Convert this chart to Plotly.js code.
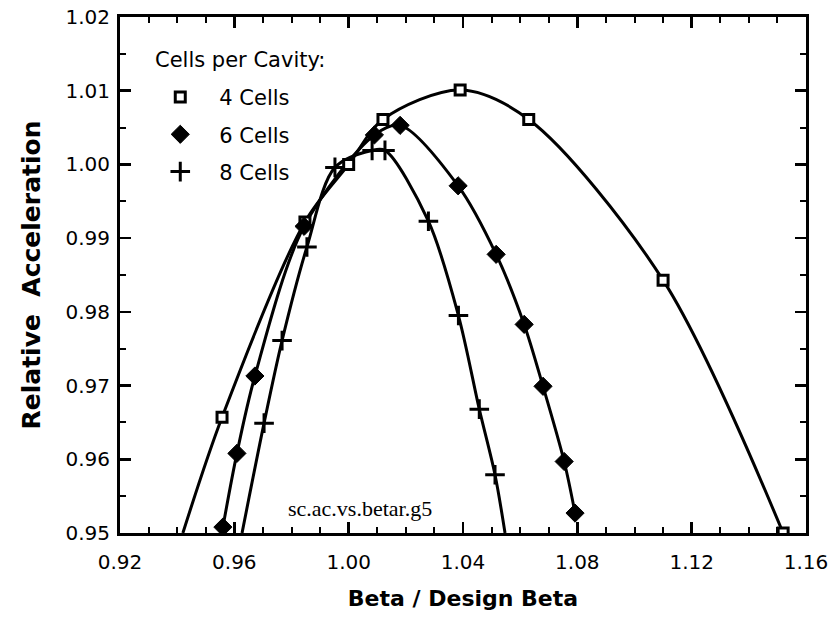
<!DOCTYPE html>
<html>
<head>
<meta charset="utf-8">
<script src="https://cdn.plot.ly/plotly-3.0.1.min.js"></script>
<style>html,body{margin:0;padding:0;background:#fff;}#chart{width:829px;height:618px;}</style>
</head>
<body>
<div id="chart"></div>
<script>
// ---- Data ----
const seriesNames = ["4 Cells", "6 Cells", "8 Cells"];
const legendTitle = "Cells per Cavity:";

// 4 cells per cavity (measured points)
const beta4 = [0.9557, 0.9847, 1.000, 1.012, 1.039, 1.063, 1.110, 1.152];
const acc4  = [0.9657, 0.9922, 1.000, 1.0061, 1.0101, 1.0061, 0.9843, 0.9500];
// fitted curve continues to the frame on the left
const curveStart4 = [0.942, 0.950];

// 6 cells per cavity
const beta6 = [0.956, 0.9609, 0.9672, 0.9844, 1.009, 1.018, 1.0383, 1.0516, 1.0614, 1.068, 1.0754, 1.0792];
const acc6  = [0.9508, 0.9608, 0.9713, 0.9916, 1.0040, 1.0053, 0.9971, 0.9878, 0.9783, 0.9699, 0.9597, 0.9527];

// 8 cells per cavity
const beta8 = [0.9704, 0.9767, 0.9854, 0.9952, 1.0082, 1.0127, 1.0279, 1.0384, 1.0457, 1.0512];
const acc8  = [0.9649, 0.9761, 0.9888, 0.9996, 1.0019, 1.0019, 0.9923, 0.9795, 0.9668, 0.9579];
const curveStart8 = [0.9627, 0.950];
const curveEnd8   = [1.0547, 0.950];

const xTickVals = [0.92, 0.96, 1.00, 1.04, 1.08, 1.12, 1.16];
const yTickVals = [0.95, 0.96, 0.97, 0.98, 0.99, 1.00, 1.01, 1.02];

const FONT = "DejaVu Sans, Liberation Sans, Arial, sans-serif";
const lineStyle = {color: "#000", width: 3, shape: "spline", smoothing: 0.9};

const traces = [
  // curves
  {x: [curveStart4[0]].concat(beta4), y: [curveStart4[1]].concat(acc4),
   mode: "lines", line: lineStyle, showlegend: false, hoverinfo: "skip"},
  {x: beta6, y: acc6, mode: "lines", line: lineStyle, showlegend: false, hoverinfo: "skip"},
  {x: [curveStart8[0]].concat(beta8, [curveEnd8[0]]), y: [curveStart8[1]].concat(acc8, [curveEnd8[1]]),
   mode: "lines", line: lineStyle, showlegend: false, hoverinfo: "skip"},
  // markers
  {x: beta4, y: acc4, mode: "markers", name: seriesNames[0], legendgroup: "a",
   marker: {symbol: "square", size: 10, color: "#fff", line: {color: "#000", width: 3}}},
  {x: beta6, y: acc6, mode: "markers", name: seriesNames[1], legendgroup: "b",
   marker: {symbol: "diamond", size: 14, color: "#000", line: {color: "#000", width: 1}}},
  {x: beta8, y: acc8, mode: "markers", name: seriesNames[2], legendgroup: "c",
   marker: {symbol: "cross-thin-open", size: 14, color: "#000", line: {color: "#000", width: 3}}}
];

const axisCommon = {
  showgrid: false, zeroline: false, showline: true, linecolor: "#000", linewidth: 3,
  mirror: "ticks", ticks: "inside", ticklen: 11, tickwidth: 2.5, tickcolor: "#000",
  tickfont: {family: FONT, size: 20, color: "#000"}, tickformat: ".2f"
};

const layout = {
  width: 829, height: 618,
  margin: {l: 120, r: 23, t: 17, b: 85},
  paper_bgcolor: "#fff", plot_bgcolor: "#fff",
  showlegend: true,
  legend: {
    x: 0.031, y: 0.884, xanchor: "left", yanchor: "top",
    bgcolor: "rgba(0,0,0,0)", borderwidth: 0, itemwidth: 68,
    traceorder: "grouped", tracegroupgap: 7,
    font: {family: FONT, size: 21, color: "#000"}
  },
  xaxis: Object.assign({}, axisCommon, {
    range: [0.92, 1.16], tickmode: "array", tickvals: xTickVals,
    minor: {dtick: 0.01, tick0: 0.92, ticks: "inside", ticklen: 6, tickwidth: 2, tickcolor: "#000"},
    ticklabelstandoff: 9,
    title: {text: "Beta / Design Beta", standoff: 18,
            font: {family: FONT, size: 22, color: "#000", weight: "bold"}},
    automargin: false
  }),
  yaxis: Object.assign({}, axisCommon, {
    range: [0.95, 1.02], tickmode: "array", tickvals: yTickVals,
    minor: {dtick: 0.005, tick0: 0.95, ticks: "inside", ticklen: 6, tickwidth: 2, tickcolor: "#000"},
    ticklabelstandoff: 3,
    title: {text: "Relative \u00a0Acceleration", standoff: 18,
            font: {family: FONT, size: 25, color: "#000", weight: "bold"}},
    automargin: false
  }),
  annotations: [
    {xref: "paper", yref: "paper", x: 0.35, y: 0.048, xanchor: "center", yanchor: "middle",
     text: "sc.ac.vs.betar.g5", showarrow: false,
     font: {family: "Liberation Serif, Times New Roman, serif", size: 22, color: "#000"}},
    {xref: "paper", yref: "paper", x: 0.048, y: 0.917, xanchor: "left", yanchor: "middle",
     text: legendTitle, showarrow: false,
     font: {family: FONT, size: 21, color: "#000"}}
  ]
};

Plotly.newPlot("chart", traces, layout, {displayModeBar: false, staticPlot: true});
</script>
</body>
</html>
